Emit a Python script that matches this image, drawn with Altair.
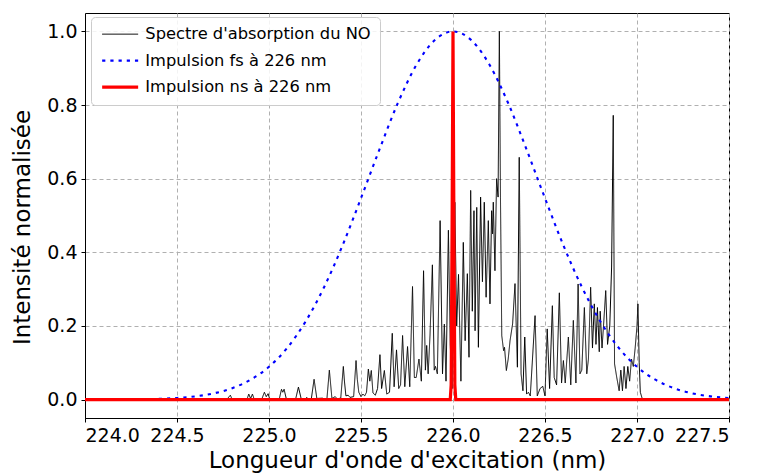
import altair as alt
import pandas as pd

# --- NO absorption spectrum (vertices) ---
spec_x = [224.0, 224.77, 224.79, 224.80, 224.88, 224.89, 224.90, 224.91, 224.92, 224.96,
          224.975, 224.985, 224.995, 225.005, 225.055, 225.068, 225.075, 225.082, 225.095, 225.145,
          225.16, 225.175, 225.20, 225.205, 225.21, 225.23, 225.245, 225.26, 225.29, 225.30,
          225.315, 225.328, 225.342, 225.36, 225.37, 225.39, 225.404, 225.41, 225.418, 225.43,
          225.44, 225.46, 225.473, 225.48, 225.488, 225.50, 225.51, 225.52, 225.53, 225.54,
          225.548, 225.556, 225.565, 225.578, 225.59, 225.603, 225.612, 225.627, 225.64, 225.655,
          225.67, 225.68, 225.693, 225.705, 225.715, 225.726, 225.738, 225.753, 225.765, 225.78,
          225.79, 225.80, 225.815, 225.828, 225.84, 225.85, 225.857, 225.865, 225.875, 225.888,
          225.898, 225.905, 225.915, 225.93, 225.943, 225.953, 225.962, 225.975, 225.985, 225.995,
          226.01, 226.02, 226.03, 226.043, 226.056, 226.066, 226.078, 226.087, 226.096, 226.105,
          226.114, 226.12, 226.129, 226.138, 226.15, 226.16, 226.17, 226.18, 226.192, 226.201,
          226.21, 226.215, 226.219, 226.228, 226.237, 226.245, 226.252, 226.258, 226.265, 226.275,
          226.28, 226.29, 226.30, 226.31, 226.324, 226.337, 226.35, 226.36, 226.37, 226.38,
          226.39, 226.40, 226.41, 226.42, 226.446, 226.458, 226.473, 226.488, 226.50, 226.512,
          226.525, 226.54, 226.55, 226.563, 226.578, 226.59, 226.60, 226.61, 226.627, 226.64,
          226.654, 226.668, 226.68, 226.69, 226.70, 226.714, 226.727, 226.736, 226.748, 226.758,
          226.768, 226.777, 226.785, 226.795, 226.80, 226.81, 226.818, 226.83, 226.84, 226.852,
          226.862, 226.871, 226.878, 226.89, 226.903, 226.912, 226.921, 226.93, 226.94, 226.95,
          226.96, 226.97, 226.98, 226.99, 227.0, 227.005, 227.012, 227.018, 227.03, 227.5]
spec_y = [0.0, 0.0, 0.012, 0.0, 0.0, 0.015, 0.003, 0.015, 0.0, 0.0,
          0.02, 0.008, 0.016, 0.0, 0.0, 0.028, 0.02, 0.028, 0.0, 0.002,
          0.034, 0.002, 0.0, 0.006, 0.0, 0.002, 0.055, 0.003, 0.004, 0.0,
          0.003, 0.08, 0.003, 0.008, 0.002, 0.004, 0.09, 0.05, 0.01, 0.012,
          0.006, 0.008, 0.106, 0.055, 0.02, 0.008, 0.015, 0.01, 0.02, 0.083,
          0.05, 0.079, 0.018, 0.012, 0.03, 0.122, 0.03, 0.079, 0.015, 0.02,
          0.18, 0.035, 0.135, 0.03, 0.04, 0.174, 0.035, 0.144, 0.035, 0.307,
          0.06, 0.06, 0.11, 0.05, 0.35, 0.08, 0.147, 0.07, 0.174, 0.366,
          0.08, 0.09, 0.07, 0.486, 0.07, 0.205, 0.05, 0.46, 0.15, 0.03,
          0.536, 0.2, 0.34, 0.05, 0.427, 0.16, 0.342, 0.115, 0.568, 0.24,
          0.513, 0.187, 0.522, 0.142, 0.55, 0.32, 0.536, 0.278, 0.486, 0.26,
          0.513, 0.45, 0.536, 0.35, 0.60, 0.55, 1.0, 0.55, 0.174, 0.133,
          0.142, 0.079, 0.11, 0.16, 0.206, 0.315, 0.088, 0.658, 0.07, 0.024,
          0.17, 0.015, 0.02, 0.01, 0.228, 0.01, 0.03, 0.036, 0.01, 0.192,
          0.03, 0.255, 0.06, 0.04, 0.29, 0.045, 0.106, 0.045, 0.17, 0.04,
          0.215, 0.045, 0.314, 0.07, 0.08, 0.25, 0.07, 0.11, 0.305, 0.14,
          0.26, 0.15, 0.25, 0.13, 0.24, 0.14, 0.2, 0.296, 0.15, 0.2,
          0.36, 0.772, 0.097, 0.06, 0.024, 0.08, 0.024, 0.09, 0.03, 0.09,
          0.05, 0.11, 0.09, 0.14, 0.2, 0.26, 0.1, 0.02, 0.0, 0.0]

# --- femtosecond pulse (read at 0.1 nm steps) ---
fs_x = [224.0, 224.1, 224.2, 224.3, 224.4, 224.5, 224.6, 224.7, 224.8, 224.9,
        225.0, 225.1, 225.2, 225.3, 225.4, 225.5, 225.6, 225.7, 225.8, 225.9,
        226.0, 226.1, 226.2, 226.3, 226.4, 226.5, 226.6, 226.7, 226.8, 226.9,
        227.0, 227.1, 227.2, 227.3, 227.4, 227.5]
fs_y = [0.0001, 0.0002, 0.0004, 0.0009, 0.0021, 0.0044, 0.0088, 0.017, 0.031, 0.054,
        0.089, 0.141, 0.213, 0.306, 0.419, 0.547, 0.679, 0.805, 0.908, 0.976,
        1.0, 0.976, 0.908, 0.805, 0.679, 0.547, 0.419, 0.306, 0.213, 0.141,
        0.089, 0.054, 0.031, 0.017, 0.0088, 0.0044]

# --- nanosecond pulse ---
ns_x = [224.0, 225.985, 225.99, 225.995, 226.0, 226.005, 226.01, 226.015, 227.5]
ns_y = [0.0, 0.0, 0.04, 0.46, 1.0, 0.46, 0.04, 0.0, 0.0]

names = ["Spectre d'absorption du NO", "Impulsion fs à 226 nm", "Impulsion ns à 226 nm"]

df_spec = pd.DataFrame({"x": spec_x, "y": spec_y, "s": names[0]})
df_fs = pd.DataFrame({"x": fs_x, "y": fs_y, "s": names[1]})
df_ns = pd.DataFrame({"x": ns_x, "y": ns_y, "s": names[2]})

xscale = alt.Scale(domain=[224.0, 227.5], nice=False, zero=False)
yscale = alt.Scale(domain=[-0.05, 1.05], nice=False, zero=False)

x_ticks = [224.0, 224.5, 225.0, 225.5, 226.0, 226.5, 227.0, 227.5]
y_ticks = [0.0, 0.2, 0.4, 0.6, 0.8, 1.0]

xenc = alt.X("x:Q", scale=xscale,
             axis=alt.Axis(values=x_ticks, format=".1f",
                           title="Longueur d'onde d'excitation (nm)"))
yenc = alt.Y("y:Q", scale=yscale,
             axis=alt.Axis(values=y_ticks, format=".1f", title="Intensité normalisée",
                           titleY=214))

color = alt.Color("s:N", scale=alt.Scale(domain=names, range=["#000000", "#0000ff", "#ff0000"]),
                  legend=alt.Legend(title=None))
dash = alt.StrokeDash("s:N", scale=alt.Scale(domain=names, range=[[1, 0], [3.2, 5], [1, 0]]),
                      legend=alt.Legend(title=None))
width = alt.StrokeWidth("s:N", scale=alt.Scale(domain=names, range=[1.0, 3.2, 2.8]),
                        legend=alt.Legend(title=None))


def layer(df, interp):
    return alt.Chart(df).mark_line(interpolate=interp, strokeCap="butt").encode(
        x=xenc, y=yenc, color=color, strokeDash=dash, strokeWidth=width)


chart = alt.layer(
    layer(df_spec, "linear"),
    layer(df_fs, "monotone"),
    layer(df_ns, "linear"),
).properties(
    width=644, height=405,
    padding={"left": 77, "top": 5, "right": 21, "bottom": 57},
    autosize=alt.AutoSizeParams(type="none"),
).configure(
    font="DejaVu Sans",
).configure_view(
    stroke="#000000", strokeWidth=1,
).configure_axis(
    labelFont="DejaVu Sans", titleFont="DejaVu Sans",
    labelFontSize=19, titleFontSize=23, titleFontWeight="normal",
    labelColor="#000000", titleColor="#000000",
    domainColor="#000000", tickColor="#000000", tickSize=4,
    labelPadding=4, titlePadding=4,
    grid=True, gridColor="#b0b0b0", gridDash=[4, 3], gridWidth=1,
).configure_axisY(
    titlePadding=12,
).configure_legend(
    orient="none", legendX=6, legendY=4,
    fillColor="rgba(255,255,255,0.85)", strokeColor="#cccccc", cornerRadius=4,
    padding=9, rowPadding=9.5, labelLimit=500,
    symbolType="M-1,0H5", symbolSize=144, labelOffset=29,
    labelFont="DejaVu Sans", labelFontSize=16.3, labelColor="#000000",
)

chart.save("out.html", embed_options={"renderer": "svg", "actions": False})
